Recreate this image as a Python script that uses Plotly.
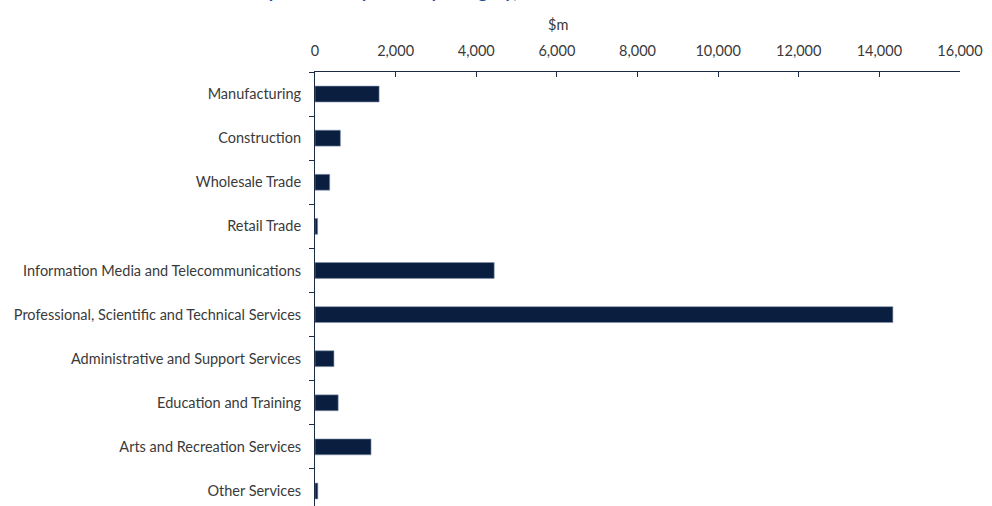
import plotly.graph_objects as go

# Industry categories, top to bottom
industries = [
    "Manufacturing",
    "Construction",
    "Wholesale Trade",
    "Retail Trade",
    "Information Media and Telecommunications",
    "Professional, Scientific and Technical Services",
    "Administrative and Support Services",
    "Education and Training",
    "Arts and Recreation Services",
    "Other Services",
]

# Values in $m
values_m = [1590, 630, 365, 65, 4445, 14335, 470, 575, 1390, 70]

x_ticks = [0, 2000, 4000, 6000, 8000, 10000, 12000, 14000, 16000]

FONT = "Lato"
TEXT = "#3a3a3a"
AXIS = "#1c2a44"
BAR = "#0a1e3f"

fig = go.Figure(
    go.Bar(
        x=values_m,
        y=industries,
        orientation="h",
        width=0.36,
        marker=dict(color=BAR, line=dict(color="#8394ad", width=0.6)),
        hoverinfo="x+y",
    )
)

fig.update_layout(
    width=992,
    height=506,
    margin=dict(l=315, r=32, t=72, b=0),
    paper_bgcolor="white",
    plot_bgcolor="white",
    showlegend=False,
    font=dict(family=FONT, size=14.5, color=TEXT),
    xaxis=dict(
        side="top",
        range=[0, 16000],
        tickvals=x_ticks,
        tickformat=",",
        ticks="inside",
        ticklen=5,
        tickcolor=AXIS,
        showline=True,
        linecolor=AXIS,
        linewidth=1,
        showgrid=False,
        zeroline=False,
        ticklabelstandoff=9,
        tickfont=dict(family=FONT, size=14.5, color=TEXT),
    ),
    yaxis=dict(
        type="category",
        categoryorder="array",
        categoryarray=industries,
        range=[9.34, -0.5],
        ticks="outside",
        ticklen=5,
        tickcolor=AXIS,
        tickson="boundaries",
        showline=True,
        linecolor=AXIS,
        linewidth=1,
        showgrid=False,
        zeroline=False,
        ticklabelstandoff=10,
        tickfont=dict(family=FONT, size=14.5, color=TEXT),
    ),
    annotations=[
        dict(
            text="$m",
            xref="paper",
            yref="paper",
            x=(558 - 315) / 645,
            y=(506 - 24) / 434,
            xanchor="center",
            yanchor="middle",
            showarrow=False,
            font=dict(family=FONT, size=14.5, color=TEXT),
        ),
        dict(
            text="<b>Expenditure by industry category, 2021-22</b>",
            xref="paper",
            yref="paper",
            x=(420 - 315) / 645,
            y=(506 - 4.5) / 434,
            xanchor="center",
            yanchor="bottom",
            showarrow=False,
            font=dict(family=FONT, size=18, color="#1f4e9a"),
        ),
    ],
)

fig.write_html("out.html")
